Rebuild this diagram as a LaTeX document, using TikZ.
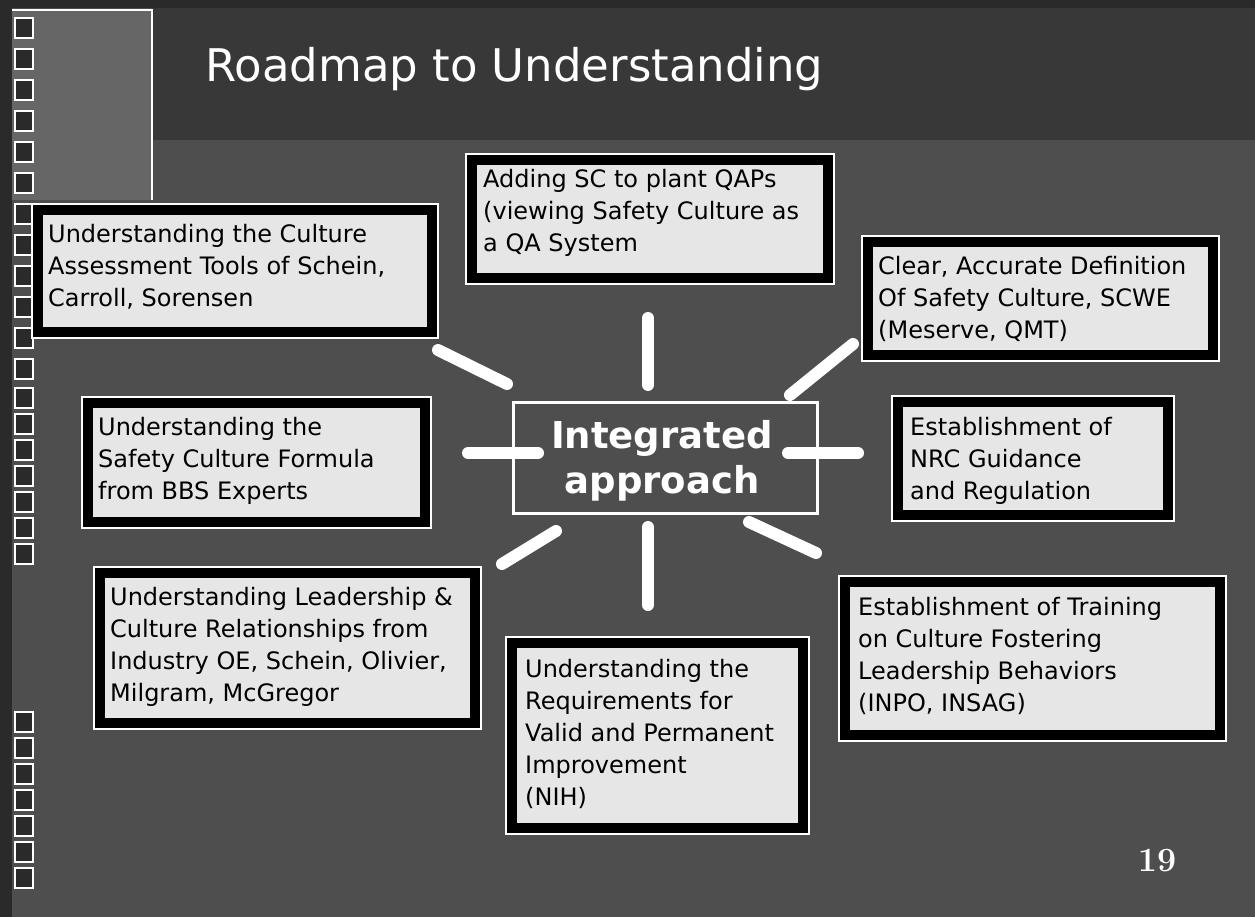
\documentclass[tikz,border=0pt]{standalone}
\usepackage{fontspec}
\newfontfamily\verd{DejaVu Sans}
\definecolor{slidebg}{HTML}{4E4E4E}
\definecolor{titlebg}{HTML}{383838}
\definecolor{panelbg}{HTML}{666666}
\definecolor{stripbg}{HTML}{2A2A2A}
\definecolor{boxfill}{HTML}{E6E6E6}
\begin{document}
\begin{tikzpicture}[x=1pt,y=-1pt,
  boxframe/.style={draw=black, line width=10pt, fill=boxfill, inner sep=0pt,
    preaction={draw=white, line width=14pt}},
  boxtext/.style={inner sep=0pt, anchor=base west, text=black,
    font=\verd\fontsize{24}{32}\selectfont},
  hubframe/.style={draw=white, line width=3pt, inner sep=0pt},
  hubtext/.style={inner sep=0pt, anchor=base, text=white,
    font=\verd\bfseries\fontsize{37}{45}\selectfont},
  spoke/.style={draw=white, line width=12pt, line cap=round},
  iconbox/.style={draw=white, line width=2.5pt, fill=stripbg},
  titletext/.style={inner sep=0pt, anchor=base west, text=white,
    font=\verd\fontsize{45}{50}\selectfont},
  pagenum/.style={inner sep=0pt, text=white,
    font=\bfseries\fontsize{34}{34}\selectfont}
]
% slide background
\fill[slidebg] (0,0) rectangle (1255,917);
\useasboundingbox (0,0) rectangle (1255,917);
\fill[stripbg] (0,0) rectangle (1255,8);
\fill[titlebg] (152,8) rectangle (1255,140);
\fill[stripbg] (0,0) rectangle (12,917);
% decorative panel and icon column on the left
\fill[panelbg] (12,10) rectangle (152,200);
\draw[white, line width=2.5pt] (12,10) -- (152,10) -- (152,200);
\foreach \yy in {18,49,...,360,388,414,...,560} \draw[iconbox] (15,\yy) rectangle +(18,20);
\foreach \yy in {712,738,...,890} \draw[iconbox] (15,\yy) rectangle +(18,20);

% title
\node[titletext] (title) at (205,82) {Roadmap to Understanding};

% hub
\node[hubframe, minimum width=304pt, minimum height=111pt] (hub) at (665,457.5) {};
\node[hubtext] (hubtxt) at (662,448) {\parbox[t]{320pt}{\centering Integrated\\approach}};

% spokes around the hub
\coordinate (top1) at (648,318);  \coordinate (top2) at (648,385);
\coordinate (bot1) at (648,527);  \coordinate (bot2) at (648,605);
\coordinate (lft1) at (468,453);  \coordinate (lft2) at (538,453);
\coordinate (rgt1) at (788,453);  \coordinate (rgt2) at (858,453);
\coordinate (ul1) at (438,350);   \coordinate (ul2) at (507,384);
\coordinate (ur1) at (853,344);   \coordinate (ur2) at (790,395);
\coordinate (ll1) at (502,564);   \coordinate (ll2) at (556,531);
\coordinate (lr1) at (749,522);   \coordinate (lr2) at (816,553);
\foreach \a/\b in {top1/top2,bot1/bot2,lft1/lft2,rgt1/rgt2,ul1/ul2,ur1/ur2,ll1/ll2,lr1/lr2}
  \draw[spoke] (\a) -- (\b);

% topic boxes
\node[boxframe, minimum width=356pt, minimum height=118pt] (b1) at (650,219) {};
\node[boxtext] (t1) at (483,188) {\parbox[t]{340pt}{\raggedright
  Adding SC to plant QAPs\\(viewing Safety Culture as\\a QA System}};

\node[boxframe, minimum width=394pt, minimum height=122pt] (b2) at (235,271) {};
\node[boxtext] (t2) at (48,243) {\parbox[t]{380pt}{\raggedright
  Understanding the Culture\\Assessment Tools of Schein,\\Carroll, Sorensen}};

\node[boxframe, minimum width=345pt, minimum height=113pt] (b3) at (1040.5,298.5) {};
\node[boxtext] (t3) at (878,275) {\parbox[t]{330pt}{\raggedright
  Clear, Accurate Definition\\Of Safety Culture, SCWE\\(Meserve, QMT)}};

\node[boxframe, minimum width=337pt, minimum height=119pt] (b4) at (256.5,462.5) {};
\node[boxtext] (t4) at (98,435) {\parbox[t]{320pt}{\raggedright
  Understanding the\\Safety Culture Formula\\from BBS Experts}};

\node[boxframe, minimum width=270pt, minimum height=113pt] (b5) at (1033,458.5) {};
\node[boxtext] (t5) at (910,435) {\parbox[t]{260pt}{\raggedright
  Establishment of\\NRC Guidance\\and Regulation}};

\node[boxframe, minimum width=375pt, minimum height=150pt] (b6) at (287.5,648) {};
\node[boxtext] (t6) at (110,605) {\parbox[t]{370pt}{\raggedright
  Understanding Leadership \&\\Culture Relationships from\\Industry OE, Schein, Olivier,\\Milgram, McGregor}};

\node[boxframe, minimum width=291pt, minimum height=185pt] (b7) at (657.5,735.5) {};
\node[boxtext] (t7) at (525,677) {\parbox[t]{280pt}{\raggedright
  Understanding the\\Requirements for\\Valid and Permanent\\Improvement\\(NIH)}};

\node[boxframe, minimum width=375pt, minimum height=153pt] (b8) at (1032.5,658.5) {};
\node[boxtext] (t8) at (858,615) {\parbox[t]{360pt}{\raggedright
  Establishment of Training\\on Culture Fostering\\Leadership Behaviors\\(INPO, INSAG)}};

% page number
\node[pagenum] (pg) at (1157,861) {19};
\end{tikzpicture}
\end{document}
